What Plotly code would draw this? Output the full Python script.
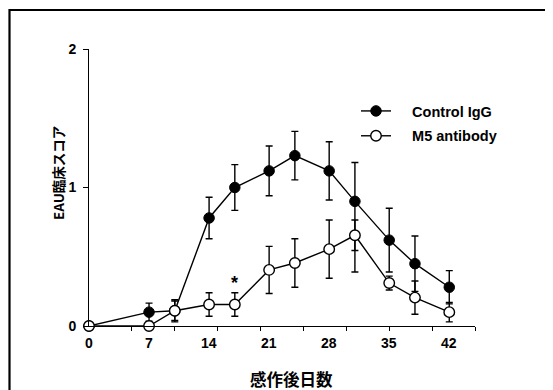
import plotly.graph_objects as go

# ---- data ----
days = [0, 7, 10, 14, 17, 21, 24, 28, 31, 35, 38, 42]
control_igg = [0, 0.10, 0.11, 0.78, 1.00, 1.12, 1.23, 1.12, 0.90, 0.62, 0.45, 0.28]
control_err_plus = [0, 0.065, 0.07, 0.15, 0.165, 0.18, 0.175, 0.21, 0.28, 0.23, 0.20, 0.12]
control_err_minus = [0, 0.065, 0.07, 0.15, 0.165, 0.18, 0.175, 0.21, 0.51, 0.23, 0.20, 0.12]
m5_antibody = [0, 0, 0.11, 0.155, 0.155, 0.405, 0.455, 0.555, 0.655, 0.31, 0.205, 0.10]
m5_err = [0, 0, 0.08, 0.085, 0.085, 0.17, 0.175, 0.21, 0.11, 0.05, 0.12, 0.07]

x_tick_vals = [0, 7, 14, 21, 28, 35, 42]
x_tick_labels = ["0", "7", "14", "21", "28", "35", "42"]
x_minor_ticks = [5, 10, 15, 20, 25, 30, 35, 40, 45]
y_tick_vals = [0, 1, 2]
y_tick_labels = ["0", "1", "2"]

sig_day = 17
sig_y = 0.31

# page has an 8px body margin: figure is drawn at page offset (8, 8)
OFF = 8
W, H = 545, 382
L, T = 89 - OFF, 49 - OFF
R = W - (475 - OFF)
B = H - (326 - OFF)
PW, PH = W - L - R, H - T - B


def px(x):
    return (x - OFF - L) / PW


def py(y):
    return (H - B - (y - OFF)) / PH


FONT = "Liberation Sans, Arial, sans-serif"
JFONT = "Noto Sans CJK JP, sans-serif"
SP = "\u00a0" * 4

fig = go.Figure()
fig.add_trace(go.Scatter(
    x=days, y=control_igg, name="<b>" + SP + "Control IgG</b>", mode="lines+markers",
    legendgroup="a",
    line=dict(color="black", width=1.4),
    marker=dict(symbol="circle", size=10.5, color="black", line=dict(color="black", width=1)),
    error_y=dict(type="data", symmetric=False, array=control_err_plus, arrayminus=control_err_minus,
                 color="black", thickness=1.4, width=3.5),
    cliponaxis=False,
))
fig.add_trace(go.Scatter(
    x=days, y=m5_antibody, name="<b>" + SP + "M5 antibody</b>", mode="lines+markers",
    legendgroup="b",
    line=dict(color="black", width=1.4),
    marker=dict(symbol="circle", size=10.5, color="white", line=dict(color="black", width=1.4)),
    error_y=dict(type="data", array=m5_err, color="black", thickness=1.4, width=3.5),
    cliponaxis=False,
))

annotations = []
for v, t in zip(x_tick_vals, x_tick_labels):
    annotations.append(dict(x=v, y=0, xref="x", yref="paper", text="<b>%s</b>" % t,
                            showarrow=False, yanchor="middle", yshift=-17,
                            font=dict(family=FONT, size=14, color="black")))
annotations.append(dict(x=sig_day, y=sig_y, xref="x", yref="y", text="<b>*</b>", showarrow=False,
                        font=dict(family=FONT, size=18, color="black")))
annotations.append(dict(x=px(291), y=py(379), xref="paper", yref="paper",
                        text="<b>感作後日数</b>", showarrow=False, yanchor="middle", xanchor="center",
                        font=dict(family=JFONT, size=16.5, color="black")))
annotations.append(dict(x=px(58), y=py(173), xref="paper", yref="paper",
                        text="<b>EAU臨床スコア</b>", showarrow=False, textangle=-90,
                        xanchor="center", yanchor="middle",
                        font=dict(family=JFONT, size=13.5, color="black")))

shapes = [
    dict(type="rect", xref="paper", yref="paper", x0=px(9.5), x1=px(900),
         y0=py(10), y1=py(900), line=dict(color="black", width=2.2), fillcolor="rgba(0,0,0,0)",
         layer="above"),
    dict(type="line", xref="paper", yref="paper", x0=px(548), x1=px(548),
         y0=py(10), y1=py(389), line=dict(color="#777", width=1)),
]

fig.update_layout(
    width=W, height=H,
    margin=dict(l=L, r=R, t=T, b=B, pad=0),
    paper_bgcolor="white", plot_bgcolor="white",
    showlegend=True,
    legend=dict(x=px(356), y=py(95), xanchor="left", yanchor="top",
                bgcolor="rgba(0,0,0,0)", borderwidth=0, traceorder="grouped", tracegroupgap=3,
                font=dict(family=FONT, size=14.5, color="black")),
    xaxis=dict(range=[0, 45], tickvals=x_minor_ticks, showticklabels=False, ticks="outside",
               ticklen=4, tickwidth=1, tickcolor="black", showline=True, linecolor="black",
               linewidth=1.3, showgrid=False, zeroline=False),
    yaxis=dict(range=[0, 2], tickvals=y_tick_vals, ticktext=["<b>%s</b>" % t for t in y_tick_labels],
               ticks="outside", ticklen=5, tickwidth=1, tickcolor="black", showline=True,
               linecolor="black", linewidth=1, showgrid=False, zeroline=False,
               tickfont=dict(family=FONT, size=14, color="black"), ticklabelstandoff=4),
    annotations=annotations,
    shapes=shapes,
)

fig.write_html("out.html")
